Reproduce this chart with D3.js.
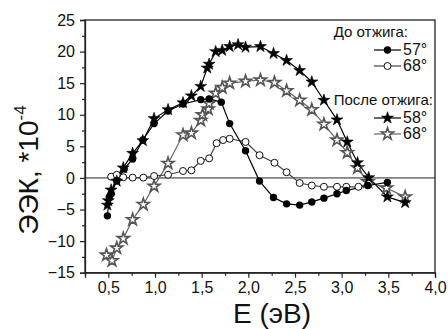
<!DOCTYPE html>
<html><head><meta charset="utf-8">
<script src="https://cdn.jsdelivr.net/npm/d3@7"></script>
<style>body{margin:0;background:#fff}svg{display:block}text{font-family:"Liberation Sans",Arial,sans-serif}</style>
</head><body>
<svg id="c" width="448" height="329"></svg>
<script>
// Data (E in eV, EEK in 1e-4)
const e57 = [0.49,0.51,0.53,0.59,0.67,0.76,0.87,0.99,1.14,1.30,1.49,1.58,1.71,1.80,1.97,2.12,2.27,2.41,2.55,2.68,2.81,2.95,3.05,3.28,3.49];
const k57 = [-6.0,-3.0,-2.5,-0.5,1.4,3.0,6.0,8.6,10.6,11.7,12.4,12.5,12.0,8.6,4.3,-0.5,-3.1,-4.1,-4.3,-3.8,-3.2,-2.5,-2.0,-1.2,-0.7];
const e68a = [0.53,0.59,0.66,0.76,0.875,0.99,1.14,1.30,1.39,1.49,1.58,1.66,1.73,1.80,1.97,2.12,2.28,2.41,2.55,2.68,2.81,2.95,3.05,3.18,3.29];
const k68a = [0.2,0.5,0.1,0.05,0.05,0.3,0.5,1.1,1.2,2.7,3.1,5.5,6.0,6.2,5.7,3.6,2.4,0.9,-0.8,-1.2,-1.4,-1.4,-1.4,-1.4,-0.9];
const e58 = [0.49,0.50,0.53,0.59,0.66,0.76,0.87,0.99,1.14,1.30,1.39,1.49,1.56,1.58,1.65,1.72,1.80,1.89,1.97,2.13,2.27,2.41,2.55,2.68,2.81,2.95,3.06,3.17,3.29,3.49,3.68];
const k58 = [-4.3,-3.6,-1.9,-0.5,1.6,3.9,5.9,9.4,10.8,11.9,13.0,14.5,17.4,18.0,20.0,20.2,20.8,21.1,20.7,20.8,19.7,18.6,17.0,15.2,12.3,9.2,5.7,2.4,0.05,-3.0,-3.9];
const e68b = [0.48,0.54,0.59,0.66,0.76,0.875,0.99,1.14,1.30,1.39,1.49,1.51,1.57,1.58,1.65,1.72,1.80,1.97,2.13,2.28,2.41,2.55,2.68,2.81,2.95,3.06,3.17,3.28,3.48,3.68];
const k68b = [-12.2,-13.1,-11.1,-9.6,-6.6,-4.2,-1.3,2.3,6.8,7.1,9.1,10.0,10.9,11.8,13.4,14.3,15.0,15.3,15.5,15.1,13.8,12.3,10.8,8.5,6.0,4.0,1.6,-0.6,-1.6,-3.0];
const xTicks = [0.5,1.0,1.5,2.0,2.5,3.0,3.5,4.0];
const yTicks = [-15,-10,-5,0,5,10,15,20,25];
const legendBefore = "До отжига:", legendAfter = "После отжига:";
const labels = ["57°","68°","58°","68°"];

const svg = d3.select("#c");
const L=85,R=435,T=20,B=272.7;
const x = d3.scaleLinear().domain([0.25,4.0]).range([L,R]);
const y = d3.scaleLinear().domain([-15,25]).range([B,T]);
const fmt = d => d3.format(".1f")(d).replace(".",",");

// frame
svg.append("rect").attr("x",L).attr("y",T).attr("width",R-L).attr("height",B-T)
  .attr("fill","none").attr("stroke","#222").attr("stroke-width",1.3);
// zero line
svg.append("line").attr("x1",L).attr("x2",R).attr("y1",y(0)).attr("y2",y(0)).attr("stroke","#222").attr("stroke-width",1);

// axes
svg.append("g").attr("transform",`translate(0,${B})`)
  .call(d3.axisBottom(x).tickValues(xTicks).tickFormat(fmt).tickSize(5).tickPadding(4));
svg.append("g").attr("transform",`translate(0,${B})`)
  .call(d3.axisBottom(x).tickValues(d3.range(0.25,4.0,0.5)).tickFormat("").tickSize(3))
  .call(g=>g.select(".domain").remove());
svg.append("g").attr("transform",`translate(${L},0)`)
  .call(d3.axisLeft(y).tickValues(yTicks).tickSize(5).tickPadding(5));
svg.append("g").attr("transform",`translate(${L},0)`)
  .call(d3.axisLeft(y).tickValues(d3.range(-12.5,25,5)).tickFormat("").tickSize(3))
  .call(g=>g.select(".domain").remove());
svg.selectAll(".tick line").attr("stroke","#222").attr("stroke-width",1.2);
svg.selectAll(".domain").attr("stroke","#222").attr("stroke-width",1.3);
svg.selectAll(".tick text").attr("font-size",16).attr("fill","#111").attr("font-family","Liberation Sans, Arial, sans-serif");

// axis titles
svg.append("text").attr("x",272).attr("y",323).attr("text-anchor","middle").attr("font-size",28).attr("fill","#111").text("E (эВ)");
const yl = svg.append("text").attr("transform","translate(38,170) rotate(-90)").attr("text-anchor","middle").attr("font-size",28).attr("fill","#111");
yl.append("tspan").text("ЭЭК, *10");
yl.append("tspan").attr("font-size",17).attr("dy",-12).text("-4");

const line = d3.line().x(d=>x(d[0])).y(d=>y(d[1]));
const zip = (a,b)=>a.map((v,i)=>[v,b[i]]);
const star = d3.symbol().type(d3.symbolStar).size(44);
const series = [
  {d:zip(e68b,k68b), line:"#666", m:"ostar"},
  {d:zip(e68a,k68a), line:"#444", m:"ocirc"},
  {d:zip(e57,k57), line:"#000", m:"fcirc"},
  {d:zip(e58,k58), line:"#000", m:"fstar"}
];
function marker(g, type, cx, cy){
  if(type==="fcirc") g.append("circle").attr("cx",cx).attr("cy",cy).attr("r",3.7).attr("fill","#000");
  else if(type==="ocirc") g.append("circle").attr("cx",cx).attr("cy",cy).attr("r",3.5).attr("fill","#fff").attr("stroke","#111").attr("stroke-width",1);
  else if(type==="fstar") g.append("path").attr("d",star()).attr("transform",`translate(${cx},${cy})`).attr("fill","#000").attr("stroke","#000").attr("stroke-width",0.6);
  else g.append("path").attr("d",star()).attr("transform",`translate(${cx},${cy})`).attr("fill","#fff").attr("stroke","#555").attr("stroke-width",1.6);
}
series.forEach(s=>{
  svg.append("path").datum(s.d).attr("d",line).attr("fill","none").attr("stroke",s.line).attr("stroke-width",1.2);
});
series.forEach(s=>{
  const g=svg.append("g");
  s.d.forEach(p=>marker(g,s.m,x(p[0]),y(p[1])));
});

// legend
const lg = svg.append("g");
lg.append("text").attr("x",408).attr("y",37).attr("text-anchor","end").attr("font-size",15).attr("fill","#111").text(legendBefore);
lg.append("text").attr("x",433).attr("y",105).attr("text-anchor","end").attr("font-size",15).attr("fill","#111").text(legendAfter);
const items = [
  {y:50, line:"#000", m:"fcirc", t:labels[0]},
  {y:66, line:"#444", m:"ocirc", t:labels[1]},
  {y:118, line:"#000", m:"fstar", t:labels[2]},
  {y:134, line:"#666", m:"ostar", t:labels[3]}
];
items.forEach(it=>{
  lg.append("line").attr("x1",374).attr("x2",401).attr("y1",it.y).attr("y2",it.y).attr("stroke",it.line).attr("stroke-width",1.2);
  marker(lg,it.m,387.5,it.y);
  lg.append("text").attr("x",403).attr("y",it.y+5).attr("font-size",16).attr("fill","#111").text(it.t);
});
</script>
</body></html>
